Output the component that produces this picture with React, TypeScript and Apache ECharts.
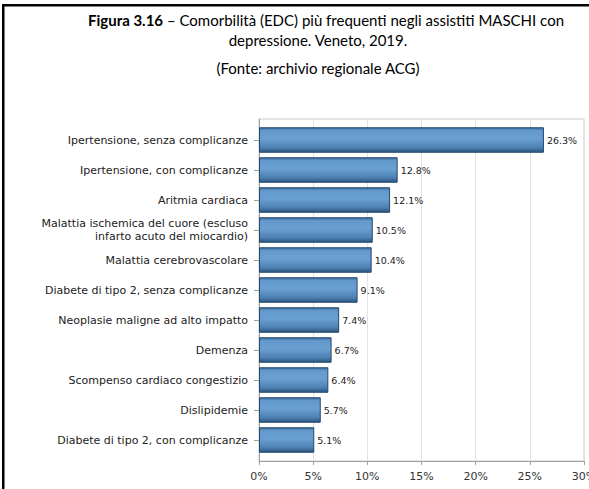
import React, { useEffect, useRef } from "react";
import * as echarts from "echarts";

const categories: string[] = [
  "Ipertensione, senza complicanze",
  "Ipertensione, con complicanze",
  "Aritmia cardiaca",
  "Malattia ischemica del cuore (escluso\ninfarto acuto del miocardio)",
  "Malattia cerebrovascolare",
  "Diabete di tipo 2, senza complicanze",
  "Neoplasie maligne ad alto impatto",
  "Demenza",
  "Scompenso cardiaco congestizio",
  "Dislipidemie",
  "Diabete di tipo 2, con complicanze",
];
const values: number[] = [26.3, 12.8, 12.1, 10.5, 10.4, 9.1, 7.4, 6.7, 6.4, 5.7, 5.1];
const xTicks: number[] = [0, 5, 10, 15, 20, 25, 30];

const titleLine1Bold = "Figura 3.16";
const titleLine1Rest = " – Comorbilità (EDC) più frequenti negli assistiti MASCHI con";
const titleLine2 = "depressione. Veneto, 2019.";
const titleLine3 = "(Fonte: archivio regionale ACG)";

const FONT = "DejaVu Sans";
const TFONT = "Lato";

export default function App() {
  const ref = useRef<HTMLDivElement>(null);
  useEffect(() => {
    if (!ref.current) return;
    const chart = echarts.init(ref.current, null, { renderer: "svg" });
    const barGradient = new echarts.graphic.LinearGradient(0, 0, 0, 1, [
      { offset: 0, color: "#3d6c9c" },
      { offset: 0.12, color: "#6399cc" },
      { offset: 0.45, color: "#6a9fd1" },
      { offset: 0.8, color: "#4f82b4" },
      { offset: 1, color: "#2b5580" },
    ]);
    chart.setOption({
      animation: false,
      backgroundColor: "#ffffff",
      graphic: [
        {
          type: "rect",
          shape: { x: 2, y: 4, width: 587, height: 2.5 },
          style: { fill: "#000" },
          silent: true,
          z: 100,
        },
        {
          type: "rect",
          shape: { x: 2, y: 4, width: 2.5, height: 485 },
          style: { fill: "#000" },
          silent: true,
          z: 100,
        },
        {
          type: "text",
          x: 326,
          y: 19.5,
          style: {
            text: "{b|" + titleLine1Bold + "}{r|" + titleLine1Rest + "}",
            align: "center",
            verticalAlign: "middle",
            rich: {
              b: { fontFamily: TFONT, fontSize: 15, fontWeight: "bold", fill: "#000" },
              r: { fontFamily: TFONT, fontSize: 15, fill: "#000" },
            },
          },
        },
        {
          type: "text",
          x: 318,
          y: 39.5,
          style: {
            text: titleLine2,
            align: "center",
            verticalAlign: "middle",
            fontFamily: TFONT,
            fontSize: 15,
            fill: "#000",
          },
        },
        {
          type: "text",
          x: 318,
          y: 67.5,
          style: {
            text: titleLine3,
            align: "center",
            verticalAlign: "middle",
            fontFamily: TFONT,
            fontSize: 15,
            fill: "#000",
          },
        },
      ],
      grid: [
        {
          left: 259,
          right: 5,
          top: 119,
          bottom: 28,
          show: true,
          borderColor: "#c8c8c8",
          borderWidth: 1,
          outerBoundsMode: "none",
          containLabel: false,
        },
        { left: 259, right: 5, top: 125, bottom: 34, outerBoundsMode: "none", containLabel: false },
      ],
      xAxis: [
        {
          gridIndex: 0,
          type: "value",
          min: xTicks[0],
          max: xTicks[xTicks.length - 1],
          interval: 5,
          axisLine: { show: true, lineStyle: { color: "#a0a0a0" } },
          axisTick: { show: true, length: 4, lineStyle: { color: "#a0a0a0" } },
          axisLabel: {
            formatter: "{value}%",
            fontFamily: FONT,
            fontSize: 11,
            color: "#333",
            margin: 10,
          },
          splitLine: { show: true, lineStyle: { color: "#e2e2e2" } },
        },
        {
          gridIndex: 1,
          type: "value",
          min: xTicks[0],
          max: xTicks[xTicks.length - 1],
          show: false,
        },
      ],
      yAxis: [
        {
          gridIndex: 0,
          type: "value",
          min: 0,
          max: 1,
          axisLine: { show: true, lineStyle: { color: "#a0a0a0" } },
          axisTick: { show: false },
          axisLabel: { show: false },
          splitLine: { show: false },
        },
        {
          gridIndex: 1,
          type: "category",
          inverse: true,
          data: categories,
          axisLine: { show: false },
          axisTick: { show: true, alignWithLabel: true, length: 5, lineStyle: { color: "#a0a0a0" } },
          axisLabel: {
            fontFamily: FONT,
            fontSize: 11,
            color: "#222",
            margin: 11,
            lineHeight: 13,
            align: "right",
          },
        },
      ],
      series: [
        {
          type: "bar",
          xAxisIndex: 1,
          yAxisIndex: 1,
          data: values,
          barCategoryGap: "15%",
          itemStyle: { color: barGradient, borderColor: "#25486e", borderWidth: 1 },
          label: {
            show: true,
            position: "right",
            distance: 3,
            formatter: (p: any) => Number(p.value).toFixed(1) + "%",
            fontFamily: FONT,
            fontSize: 9.5,
            color: "#222",
          },
        },
      ],
    });
    return () => chart.dispose();
  }, []);
  return (
    <div
      ref={ref}
      style={{ position: "fixed", left: 0, top: 0, width: 589, height: 489, background: "#fff" }}
    />
  );
}
